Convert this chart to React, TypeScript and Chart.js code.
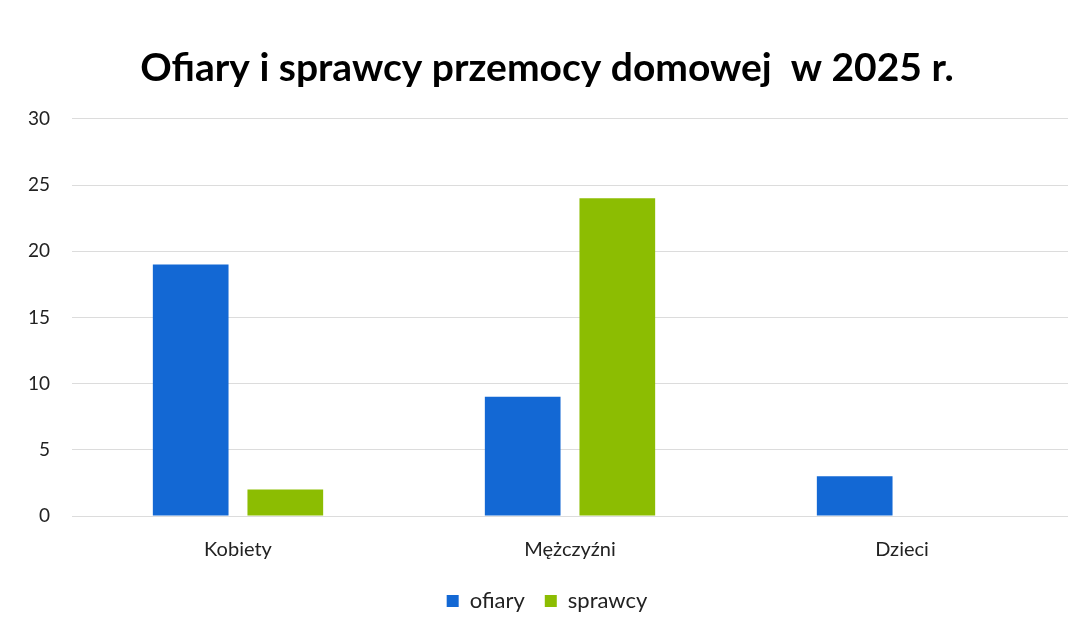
import React, { useEffect, useRef } from "react";
import { Chart, registerables } from "chart.js";

Chart.register(...registerables);

const categories = ["Kobiety", "Mężczyźni", "Dzieci"];
const ofiary = [19, 9, 3];
const sprawcy = [2, 24, 0];
const yTicks = [0, 5, 10, 15, 20, 25, 30];
const titleText = "Ofiary i sprawcy przemocy domowej  w 2025 r.";

const LEGEND_PAD = 20;

export default function App() {
  const ref = useRef<HTMLCanvasElement | null>(null);
  useEffect(() => {
    document.body.style.margin = "0";
    const ctx = ref.current!.getContext("2d")!;
    const chart = new Chart(ctx, {
      type: "bar",
      data: {
        labels: categories,
        datasets: [
          {
            label: "ofiary",
            data: ofiary,
            backgroundColor: "#1368d4",
            categoryPercentage: 0.57,
            barPercentage: 0.8,
          },
          {
            label: "sprawcy",
            data: sprawcy,
            backgroundColor: "#8cbd02",
            categoryPercentage: 0.57,
            barPercentage: 0.8,
          },
        ],
      },
      options: {
        animation: false,
        responsive: false,
        maintainAspectRatio: false,
        layout: { padding: { left: 26, right: 21, top: 0, bottom: 10 } },
        plugins: {
          title: {
            display: true,
            text: titleText,
            color: "#000",
            font: { family: "Lato", size: 39, weight: "bold" },
            padding: { top: 45, bottom: 27 },
          },
          legend: {
            position: "bottom",
            labels: {
              boxWidth: 12,
              boxHeight: 12,
              color: "#222",
              font: { family: "Lato", size: 22 },
              padding: LEGEND_PAD,
            },
          },
          tooltip: { enabled: false },
        },
        scales: {
          x: {
            grid: { display: false, drawTicks: false },
            border: { display: false },
            ticks: {
              color: "#222",
              font: { family: "Lato", size: 20 },
              padding: 22,
            },
            afterFit: (axis: any) => {
              axis.height = axis.height - (LEGEND_PAD - 6);
            },
          },
          y: {
            min: 0,
            max: 30,
            afterBuildTicks: (axis: any) => {
              axis.ticks = yTicks.map((v) => ({ value: v }));
            },
            afterFit: (axis: any) => {
              axis.width = 46;
            },
            grid: { color: "#dcdcdc", lineWidth: 1, drawTicks: false },
            border: { display: false },
            ticks: {
              color: "#222",
              font: { family: "Lato", size: 19 },
              padding: 22,
            },
          },
        },
      },
    });
    return () => chart.destroy();
  }, []);
  return (
    <div style={{ width: 1089, height: 632, background: "#fff" }}>
      <canvas ref={ref} width={1089} height={632} style={{ display: "block" }} />
    </div>
  );
}
